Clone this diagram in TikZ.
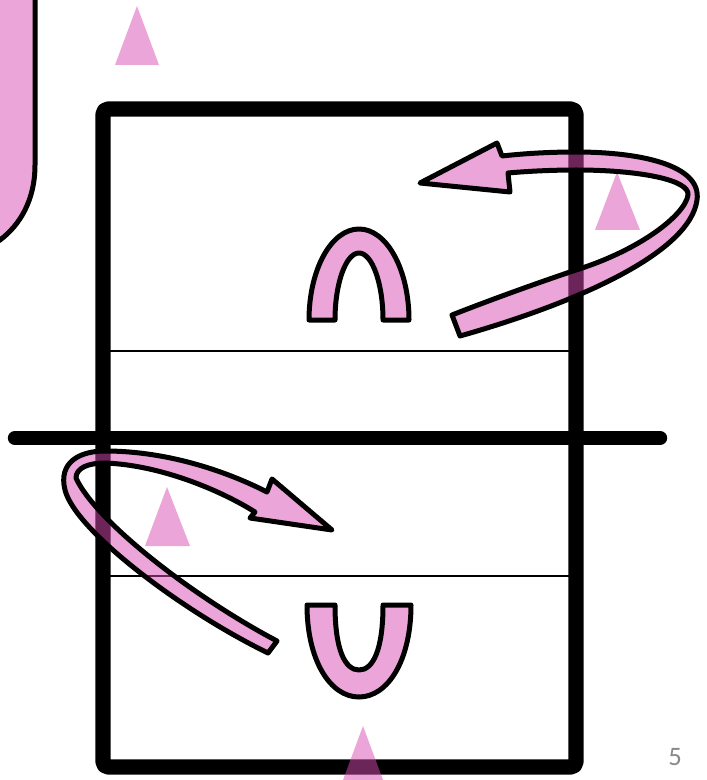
\documentclass[tikz,border=0pt]{standalone}
\usepackage{fontspec}
\newfontfamily\carl{Carlito}
\definecolor{rib}{RGB}{217,75,177}
\definecolor{pinkfill}{RGB}{236,165,216}
\definecolor{pagegray}{RGB}{137,137,137}
\tikzset{
  ribbon/.style={fill=rib, fill opacity=0.5, draw=black, line width=3.75pt, line join=round},
  tri/.style={fill=rib, fill opacity=0.5},
  solidpink/.style={fill=pinkfill, draw=black, line width=3.75pt, line join=round},
  frame/.style={draw=black, line width=11.5pt, line join=round},
  thin/.style={draw=black, line width=1.5pt},
  bar/.style={draw=black, line width=10.8pt, line cap=round},
}
\begin{document}
\begin{tikzpicture}[x=0.75pt,y=-0.75pt]
\useasboundingbox (0,0) rectangle (706,780);
\clip (0,0) rectangle (706,780);
% pink rounded box at top left
\draw[solidpink] (-20,-20) -- (35,-20) -- (35,165)
  .. controls (35,200) and (20,225) .. (0,240) -- (-20,252) -- cycle;
% thin lines
\draw[thin] (103,351) -- (576,351);
\draw[thin] (103,576) -- (576,576);
% frame
\draw[frame, rounded corners=4pt] (103,109) rectangle (576,767);
% bar
\draw[bar] (15,438) -- (660,438);
% triangles
\fill[tri] (137,6) -- (159,65) -- (115,65) -- cycle;
\fill[tri] (617,172) -- (640,230) -- (595,230) -- cycle;
\fill[tri] (167,487) -- (190,546) -- (145,546) -- cycle;
\fill[tri] (363,726) -- (383,780) -- (343,780) -- cycle;
% arch
\draw[solidpink] (309,320) .. controls (309,270) and (331,229) .. (359,229)
  .. controls (387,229) and (409,270) .. (409,320) -- (383,320)
  .. controls (383,283) and (372,253) .. (359,253)
  .. controls (346,253) and (335,283) .. (335,320) -- cycle;
% U
\draw[solidpink] (307,605) .. controls (307,660) and (330,697) .. (359,697)
  .. controls (388,697) and (411,660) .. (411,605) -- (383,605)
  .. controls (383,650) and (373,670) .. (359,670)
  .. controls (345,670) and (335,650) .. (335,605) -- cycle;
% upper ribbon arrow
\draw[ribbon] (460,336) .. controls (580,302) and (690,252) .. (697,200)
  .. controls (702,165) and (640,152) .. (576,152)
  .. controls (545,152) and (520,154) .. (502,156)
  -- (497,143) -- (420,183) -- (510,192) -- (508,173)
  .. controls (530,171) and (555,170) .. (576,170)
  .. controls (640,170) and (690,180) .. (688,195)
  .. controls (685,215) and (640,250) .. (576,270)
  .. controls (540,282) and (490,300) .. (452,315) -- cycle;
% lower ribbon arrow
\draw[ribbon] (268,653) .. controls (180,610) and (75,530) .. (65,490)
  .. controls (58,462) and (80,451) .. (105,451)
  .. controls (170,451) and (230,473) .. (267,492)
  -- (272,479) -- (332,530) -- (250,518) -- (255,512)
  .. controls (220,490) and (160,465) .. (105,463)
  .. controls (88,463) and (76,468) .. (76,478)
  .. controls (95,520) and (190,595) .. (277,641) -- cycle;
% page number
\node[text=pagegray, font=\carl\fontsize{20}{24}\selectfont] (pg) at (675,757) {5};
\end{tikzpicture}
\end{document}
